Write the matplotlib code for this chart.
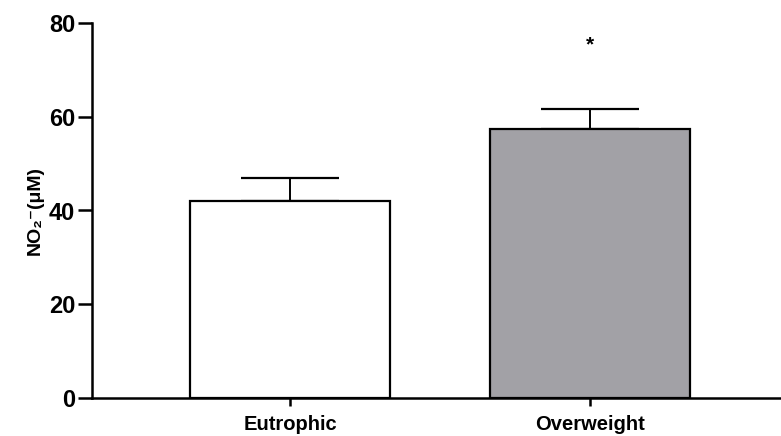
import matplotlib
matplotlib.use("Agg")
import matplotlib.pyplot as plt

categories = ["Eutrophic", "Overweight"]
means = [42.0, 57.4]
errors = [4.9, 4.3]
colors = ["#ffffff", "#a2a1a6"]
yticks = [0, 20, 40, 60, 80]
star_y = 75.3

plt.rcParams['font.family'] = ['Liberation Sans', 'DejaVu Sans']

fig = plt.figure(figsize=(7.81, 4.36), dpi=100)
ax = fig.add_axes([92/781, 1 - 398/436, 1 - 92/781, (398 - 23)/436])

x = list(range(len(categories)))
ax.bar(x, means, width=0.667, color=colors, edgecolor="black", linewidth=1.6, zorder=2)
ax.errorbar(x, means, yerr=[[0, 0], errors], fmt="none", ecolor="black",
            elinewidth=1.4, capsize=35, capthick=1.6, zorder=1)

ax.text(1, star_y, "*", ha="center", va="center",
        fontsize=15, fontweight="bold")

ax.set_xlim(-0.66, 1.637)
ax.set_ylim(0, 80)
ax.set_yticks(yticks)
ax.set_yticklabels([str(v) for v in yticks], fontsize=17, fontweight="bold")
ax.set_xticks(x)
ax.set_xticklabels(categories, fontsize=14.5, fontweight="bold")
ax.tick_params(axis="y", length=10, width=1.8, pad=2)
ax.tick_params(axis="x", length=6, width=1.8, pad=6)

ax.spines["top"].set_visible(False)
ax.spines["right"].set_visible(False)
ax.spines["left"].set_linewidth(1.8)
ax.spines["bottom"].set_linewidth(1.8)

ax.set_ylabel("NO\u2082\u207b(\u03bcM)", fontsize=14, fontweight="bold", labelpad=4)

fig.savefig("out.png", dpi=100)
